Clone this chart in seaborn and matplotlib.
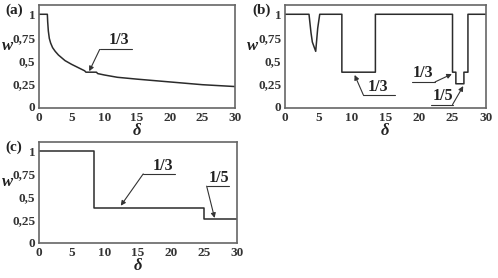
import numpy as np
import pandas as pd
import matplotlib
matplotlib.use("Agg")
import matplotlib.pyplot as plt
from matplotlib.ticker import MultipleLocator
import seaborn as sns

# panel (a): smooth decay with small 1/3 plateau
delta_a = [0, 1.3, 1.35, 1.45, 1.6, 1.8, 2.1, 2.5, 3.0, 3.5, 4.0, 5.0, 6.0, 7.0, 7.2, 8.8, 9.0, 10, 12, 15, 20, 25, 30]
w_a = [1, 1, 0.92, 0.82, 0.74, 0.69, 0.64, 0.6, 0.56, 0.53, 0.5, 0.46, 0.425, 0.39, 0.375, 0.375, 0.36, 0.345, 0.32, 0.3, 0.27, 0.24, 0.22]

# panel (b)
delta_b = [0, 3.6, 3.9, 4.1, 4.6, 4.9, 5.2, 8.5, 8.5, 13.5, 13.5, 25.0, 25.0, 25.5, 25.5, 26.7, 26.7, 27.3, 27.3, 30]
w_b = [1, 1, 0.8, 0.7, 0.6, 0.85, 1, 1, 0.375, 0.375, 1, 1, 0.375, 0.375, 0.25, 0.25, 0.375, 0.375, 1, 1]

# panel (c)
delta_c = [0, 8.4, 8.4, 25.0, 25.0, 30]
w_c = [1, 1, 0.375, 0.375, 0.25, 0.25]

yticks = [0, 0.25, 0.5, 0.75, 1]
ytick_labels = ["0", "0,25", "0,5", "0,75", "1"]
xticks = [0, 5, 10, 15, 20, 25, 30]

sns.set_style("white")
plt.rcParams["font.family"] = ["Liberation Serif", "DejaVu Serif"]
plt.rcParams["font.weight"] = "bold"

fig = plt.figure(figsize=(4.98, 2.78), dpi=100)
ax_a = fig.add_axes([0.078, 0.612, 0.394, 0.370])
ax_b = fig.add_axes([0.572, 0.612, 0.404, 0.370])
ax_c = fig.add_axes([0.078, 0.126, 0.398, 0.363])

line_col = "#2b2b2b"
for ax, d, w in [(ax_a, delta_a, w_a), (ax_b, delta_b, w_b), (ax_c, delta_c, w_c)]:
    df = pd.DataFrame({"delta": d, "w": w})
    sns.lineplot(data=df, x="delta", y="w", ax=ax, estimator=None, sort=False,
                 color=line_col, linewidth=1.1)
    ax.set_xlim(0, 30)
    ax.set_ylim(-0.01, 1.1)
    ax.set_xticks(xticks)
    ax.set_xticklabels([str(t) for t in xticks])
    ax.set_yticks(yticks)
    ax.set_yticklabels(ytick_labels)
    ax.xaxis.set_minor_locator(MultipleLocator(1))
    ax.yaxis.set_minor_locator(MultipleLocator(0.05))
    ax.tick_params(which="both", direction="in", colors="#555555", labelcolor="#333333",
                   labelsize=9.5)
    ax.tick_params(axis="x", pad=3)
    ax.tick_params(axis="y", pad=2.5)
    ax.tick_params(which="major", length=3, width=0.8)
    ax.tick_params(which="minor", length=1.5, width=0.6)
    for lab in ax.get_xticklabels() + ax.get_yticklabels():
        lab.set_fontweight("bold")
    for s in ax.spines.values():
        s.set_color("#666666")
        s.set_linewidth(1.2)
    ax.set_xlabel("δ", fontsize=12, fontstyle="italic",
                  fontweight="bold", labelpad=-1, color="#222222")
    ax.set_ylabel("w", fontsize=12, fontstyle="italic", fontweight="bold",
                  rotation=0, color="#222222")
    ax.yaxis.set_label_coords(-0.16, 0.52)

fig.text(0.010, 0.950, "(a)", fontsize=11, fontweight="bold", color="#222222")
fig.text(0.506, 0.950, "(b)", fontsize=11, fontweight="bold", color="#222222")
fig.text(0.010, 0.458, "(c)", fontsize=11, fontweight="bold", color="#222222")

arrow = dict(arrowstyle="-|>", color="#333333", lw=0.8, mutation_scale=7, shrinkA=0, shrinkB=0)
ann = dict(fontsize=11.5, fontweight="bold", color="#222222", ha="center", va="center")

def label_arrow(ax, text, tx, ty, x0, x1, hy, tipx, tipy, start):
    ax.plot([x0, x1], [hy, hy], color="#333333", lw=0.8)
    ax.annotate("", xy=(tipx, tipy), xytext=(start, hy), arrowprops=arrow)
    ax.text(tx, ty, text, **ann)

label_arrow(ax_a, "1/3", 12.2, 0.72, 9.3, 14.3, 0.62, 7.7, 0.385, 9.3)
label_arrow(ax_b, "1/3", 13.9, 0.22, 11.7, 16.4, 0.13, 10.4, 0.345, 11.7)
label_arrow(ax_b, "1/3", 20.6, 0.37, 19.0, 22.4, 0.27, 24.9, 0.355, 22.4)
label_arrow(ax_b, "1/5", 23.6, 0.12, 21.8, 25.0, 0.025, 26.6, 0.225, 25.0)
label_arrow(ax_c, "1/3", 18.8, 0.84, 15.8, 20.6, 0.75, 12.4, 0.40, 15.8)
label_arrow(ax_c, "1/5", 27.3, 0.71, 25.4, 28.8, 0.615, 26.6, 0.265, 25.4)

fig.savefig("out.png", dpi=100)
